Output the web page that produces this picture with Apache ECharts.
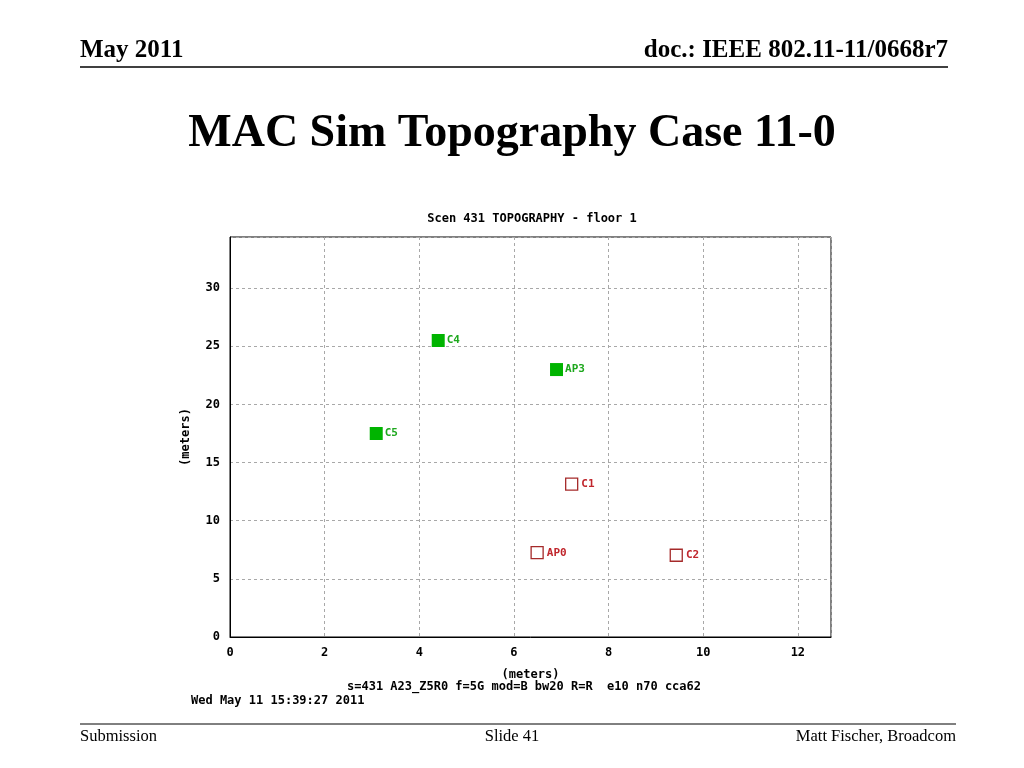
<!DOCTYPE html>
<html>
<head>
<meta charset="utf-8">
<script src="https://cdn.jsdelivr.net/npm/echarts@6/dist/echarts.min.js"></script>
<style>
  html, body { margin: 0; padding: 0; background: #fff; }
  #chart { width: 1024px; height: 768px; }
</style>
</head>
<body>
<div id="chart"></div>
<script>
// station positions (meters)
const greenNames = ['C4', 'AP3', 'C5'];
const greenX = [4.40, 6.90, 3.09];
const greenY = [25.5, 23.0, 17.5];

const redNames = ['C1', 'AP0', 'C2'];
const redX = [7.22, 6.49, 9.43];
const redY = [13.15, 7.25, 7.03];

const xTicks = [0, 2, 4, 6, 8, 10, 12];
const yTicks = [0, 5, 10, 15, 20, 25, 30];

const mono = '"DejaVu Sans Mono", "Liberation Mono", monospace';
const serif = '"Liberation Serif", "DejaVu Serif", serif';

const chart = echarts.init(document.getElementById('chart'));

function pts(names, xs, ys) {
    return names.map((n, i) => ({ name: n, value: [xs[i], ys[i]] }));
}

// shared axis styling
const gridLine = { show: true, lineStyle: { color: '#a8a8a8', type: [3, 3], width: 1 } };
const labelStyle = { fontFamily: mono, fontWeight: 'bold', fontSize: 12, color: '#000' };

const option = {
    animation: false,
    backgroundColor: '#fff',
    title: {
        text: 'Scen 431 TOPOGRAPHY - floor 1',
        left: 527,
        top: 208,
        textAlign: 'center',
        textStyle: { fontFamily: mono, fontWeight: 'bold', fontSize: 12, color: '#000' }
    },
    grid: {
        left: 230, top: 237, width: 601, height: 400,
        show: true, borderColor: '#000', borderWidth: 1, backgroundColor: 'transparent'
    },
    xAxis: {
        type: 'value', min: 0, max: 12.7, interval: 2,
        name: '(meters)', nameLocation: 'middle', nameGap: 32,
        nameTextStyle: labelStyle,
        axisLine: { show: true, lineStyle: { color: '#000' } },
        axisTick: { show: false },
        splitLine: gridLine,
        axisLabel: Object.assign({ margin: 10, showMaxLabel: false,
            formatter: v => xTicks.includes(v) ? String(v) : '' }, labelStyle)
    },
    yAxis: {
        type: 'value', min: 0, max: 34.4, interval: 5,
        name: '(meters)', nameLocation: 'middle', nameGap: 38,
        nameTextStyle: labelStyle,
        axisLine: { show: true, lineStyle: { color: '#000' } },
        axisTick: { show: false },
        splitLine: gridLine,
        axisLabel: Object.assign({ margin: 10, showMaxLabel: false,
            formatter: v => yTicks.includes(v) ? String(v) : '' }, labelStyle)
    },
    series: [{
        type: 'scatter',
        symbol: 'rect',
        symbolSize: 13,
        itemStyle: { color: '#00b400', opacity: 1 },
        label: {
            show: true, position: 'right', distance: 2, formatter: p => p.name,
            fontFamily: mono, fontWeight: 'bold', fontSize: 11, color: '#1ea81e'
        },
        data: pts(greenNames, greenX, greenY)
    }, {
        type: 'scatter',
        symbol: 'rect',
        symbolSize: 12,
        itemStyle: { color: 'rgba(255,255,255,0)', borderColor: '#a52a2a', borderWidth: 1.3, opacity: 1 },
        label: {
            show: true, position: 'right', distance: 3, formatter: p => p.name,
            fontFamily: mono, fontWeight: 'bold', fontSize: 11, color: '#c0262c'
        },
        data: pts(redNames, redX, redY)
    }],
    graphic: [
        // slide header
        { type: 'text', left: 80, top: 38, style: { text: 'May 2011', font: 'bold 25px ' + serif, fill: '#000' } },
        { type: 'text', right: 76, top: 38, style: { text: 'doc.: IEEE 802.11-11/0668r7', font: 'bold 25px ' + serif, fill: '#000' } },
        { type: 'line', shape: { x1: 80, y1: 67, x2: 948, y2: 67 }, style: { stroke: '#000', lineWidth: 1.5 } },
        { type: 'text', left: 'center', top: 111, style: { text: 'MAC Sim Topography Case 11-0', font: 'bold 46px ' + serif, fill: '#000' } },
        // chart footnotes
        { type: 'text', left: 347, top: 681, style: { text: 's=431 A23_Z5R0 f=5G mod=B bw20 R=R  e10 n70 cca62', font: 'bold 12px ' + mono, fill: '#000' } },
        { type: 'text', left: 191, top: 695, style: { text: 'Wed May 11 15:39:27 2011', font: 'bold 12px ' + mono, fill: '#000' } },
        // slide footer
        { type: 'line', shape: { x1: 80, y1: 724, x2: 956, y2: 724 }, style: { stroke: '#000', lineWidth: 1 } },
        { type: 'text', left: 80, top: 728, style: { text: 'Submission', font: '16.5px ' + serif, fill: '#000' } },
        { type: 'text', left: 'center', top: 728, style: { text: 'Slide 41', font: '16.5px ' + serif, fill: '#000' } },
        { type: 'text', right: 68, top: 728, style: { text: 'Matt Fischer, Broadcom', font: '16.5px ' + serif, fill: '#000' } }
    ]
};

chart.setOption(option);
window.addEventListener('resize', () => chart.resize());
</script>
</body>
</html>
